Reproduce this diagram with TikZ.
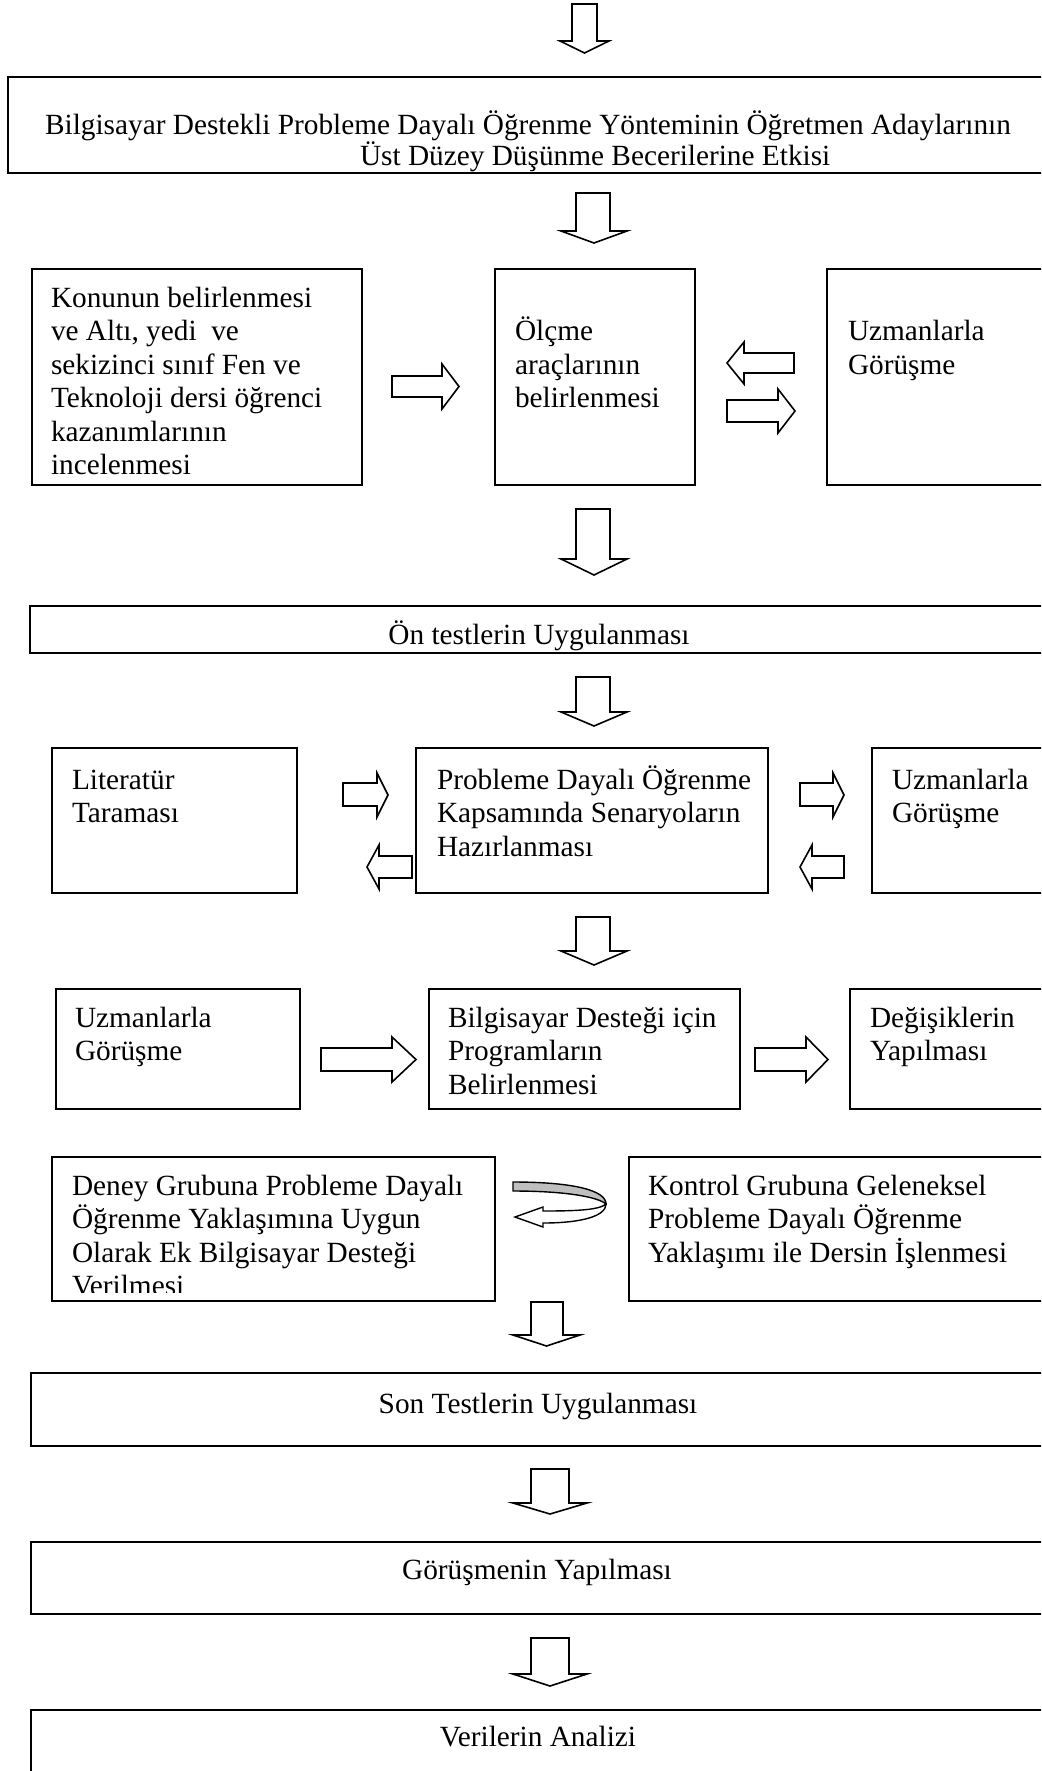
\documentclass[tikz,border=0pt]{standalone}
\usepackage{fontspec}
\setmainfont{Liberation Serif}
\newcommand\mainsz{\fontsize{29.3pt}{33.5pt}\selectfont}
% down block arrow: xl, xr, hl, hr, ytop, ybase, ytip
\newcommand\downblk[7]{\draw[blk] (#1,#5) -- (#2,#5) -- (#2,#6) -- (#4,#6) -- ({(#3+#4)/2},#7) -- (#3,#6) -- (#1,#6) -- cycle;}
% right block arrow: xl, xbase, sy1, sy2, hy1, hy2, xtip
\newcommand\rightblk[7]{\draw[blk] (#1,#3) -- (#2,#3) -- (#2,#5) -- (#7,{(#5+#6)/2}) -- (#2,#6) -- (#2,#4) -- (#1,#4) -- cycle;}
% left block arrow: xtip, xbase, xr, sy1, sy2, hy1, hy2
\newcommand\leftblk[7]{\draw[blk] (#3,#4) -- (#2,#4) -- (#2,#6) -- (#1,{(#6+#7)/2}) -- (#2,#7) -- (#2,#5) -- (#3,#5) -- cycle;}
\begin{document}
\begin{tikzpicture}[x=1pt,y=-1pt,
  box/.style={draw=black, line width=1.8pt, anchor=north west, inner sep=0pt, outer sep=0pt},
  blk/.style={draw=black, line width=1.6pt, fill=white, line join=miter},
  txt/.style={inner sep=0pt, outer sep=0pt, anchor=base west, font=\mainsz},
  ctxt/.style={inner sep=0pt, outer sep=0pt, anchor=base, font=\mainsz}]
\useasboundingbox (0,0) rectangle (1041,1771);
\clip (0,0) rectangle (1041,1771);
\fill[white] (0,0) rectangle (1041,1771);

% ---- boxes ----
\node[box, minimum width=1042pt, minimum height=96pt]  (title)   at (8,77) {};
\node[box, minimum width=330pt,  minimum height=216pt] (konu)    at (32,269) {};
\node[box, minimum width=200pt,  minimum height=216pt] (olcme)   at (495,269) {};
\node[box, minimum width=223pt,  minimum height=216pt] (uzm1)    at (827,269) {};
\node[box, minimum width=1020pt, minimum height=47pt]  (on)      at (30,606) {};
\node[box, minimum width=245pt,  minimum height=145pt] (lit)     at (52,748) {};
\node[box, minimum width=352pt,  minimum height=145pt] (prob)    at (416,748) {};
\node[box, minimum width=178pt,  minimum height=145pt] (uzm2)    at (872,748) {};
\node[box, minimum width=244pt,  minimum height=120pt] (uzm3)    at (56,989) {};
\node[box, minimum width=311pt,  minimum height=120pt] (bilg)    at (429,989) {};
\node[box, minimum width=200pt,  minimum height=120pt] (degis)   at (850,989) {};
\node[box, minimum width=443pt,  minimum height=144pt] (deney)   at (52,1157) {};
\node[box, minimum width=421pt,  minimum height=144pt] (kontrol) at (629,1157) {};
\node[box, minimum width=1019pt, minimum height=73pt]  (son)     at (31,1373) {};
\node[box, minimum width=1019pt, minimum height=72pt]  (gorusme) at (31,1542) {};
\node[box, minimum width=1019pt, minimum height=80pt]  (veri)    at (31,1710) {};

% ---- texts ----
\node[ctxt] (t1a) at (528,135) {Bilgisayar Destekli Probleme Dayalı Öğrenme Yönteminin Öğretmen Adaylarının};
\node[txt]  (t1b) at (360,166) {Üst Düzey Düşünme Becerilerine Etkisi};

\node[txt] (tkonu) at (51,307) {\parbox[t]{320pt}{\raggedright Konunun belirlenmesi\\ve Altı, yedi\ \ ve\\sekizinci sınıf Fen ve\\Teknoloji dersi öğrenci\\kazanımlarının\\incelenmesi}};
\node[txt] (tolcme) at (515,340.5) {\parbox[t]{180pt}{\raggedright Ölçme\\araçlarının\\belirlenmesi}};
\node[txt] (tuzm1) at (848,340.5) {\parbox[t]{190pt}{\raggedright Uzmanlarla\\Görüşme}};

\begin{scope}
\clip (30,606) rectangle (1041,650);
\node[ctxt] (ton) at (539,644) {Ön testlerin Uygulanması};
\end{scope}

\node[txt] (tlit) at (72,789) {\parbox[t]{220pt}{\raggedright Literatür\\Taraması}};
\node[txt] (tprob) at (437,789) {\parbox[t]{330pt}{\raggedright Probleme Dayalı Öğrenme\\Kapsamında Senaryoların\\Hazırlanması}};
\node[txt] (tuzm2) at (892,789) {\parbox[t]{150pt}{\raggedright Uzmanlarla\\Görüşme}};

\node[txt] (tuzm3) at (75,1027) {\parbox[t]{220pt}{\raggedright Uzmanlarla\\Görüşme}};
\node[txt] (tbilg) at (448,1027) {\parbox[t]{290pt}{\raggedright Bilgisayar Desteği için\\Programların\\Belirlenmesi}};
\node[txt] (tdegis) at (870,1027) {\parbox[t]{170pt}{\raggedright Değişiklerin\\Yapılması}};

\begin{scope}
\clip (52,1157) rectangle (495,1292);
\node[txt] (tdeney) at (72,1195) {\parbox[t]{420pt}{\raggedright Deney Grubuna Probleme Dayalı\\Öğrenme Yaklaşımına Uygun\\Olarak Ek Bilgisayar Desteği\\Verilmesi}};
\end{scope}
\node[txt] (tkontrol) at (648,1195) {\parbox[t]{390pt}{\raggedright Kontrol Grubuna Geleneksel\\Probleme Dayalı Öğrenme\\Yaklaşımı ile Dersin İşlenmesi}};

\node[ctxt] (tson) at (538,1413) {Son Testlerin Uygulanması};
\node[ctxt] (tgor) at (537,1579) {Görüşmenin Yapılması};
\node[ctxt] (tveri) at (538,1746) {Verilerin Analizi};

% ---- block arrows ----
\downblk{572}{597}{560}{609}{4}{41}{53}
\downblk{576}{610}{561}{627}{193}{231}{243}
\downblk{576}{610}{561}{627}{509}{559}{575}
\downblk{576}{610}{561}{627}{677}{712}{726}
\downblk{576}{610}{561}{627}{917}{951}{965}
\downblk{531}{563}{513}{580}{1302}{1335}{1346}
\downblk{531}{569}{513}{587}{1469}{1503}{1514}
\downblk{531}{569}{513}{587}{1638}{1674}{1686}

\rightblk{392}{442}{376}{397}{364}{409}{459}
\leftblk{727}{744}{794}{353}{373}{342}{384}
\rightblk{727}{778}{400}{422}{389}{433}{795}

\rightblk{343}{377}{783}{806}{773}{817}{388}
\leftblk{367}{379}{412}{856}{878}{845}{889}
\rightblk{800}{833}{783}{806}{773}{817}{844}
\leftblk{800}{812}{844}{856}{878}{845}{889}

\rightblk{321}{392}{1048}{1071}{1037}{1082}{416}
\rightblk{755}{806}{1048}{1071}{1037}{1082}{828}

% ---- curved U-turn arrow ----
\draw[line width=1.4pt, fill=black!25] (513,1182) .. controls (572,1182) and (606,1190) .. (606,1204)
   .. controls (598,1197) and (566,1191) .. (513,1191) -- cycle;
\draw[line width=1.4pt, fill=white, line join=miter] (606,1204) .. controls (606,1216) and (582,1223) .. (543,1223)
   -- (543,1227) -- (515,1217) -- (543,1207) -- (543,1211)
   .. controls (577,1211) and (599,1210) .. (606,1204) -- cycle;
\end{tikzpicture}
\end{document}
